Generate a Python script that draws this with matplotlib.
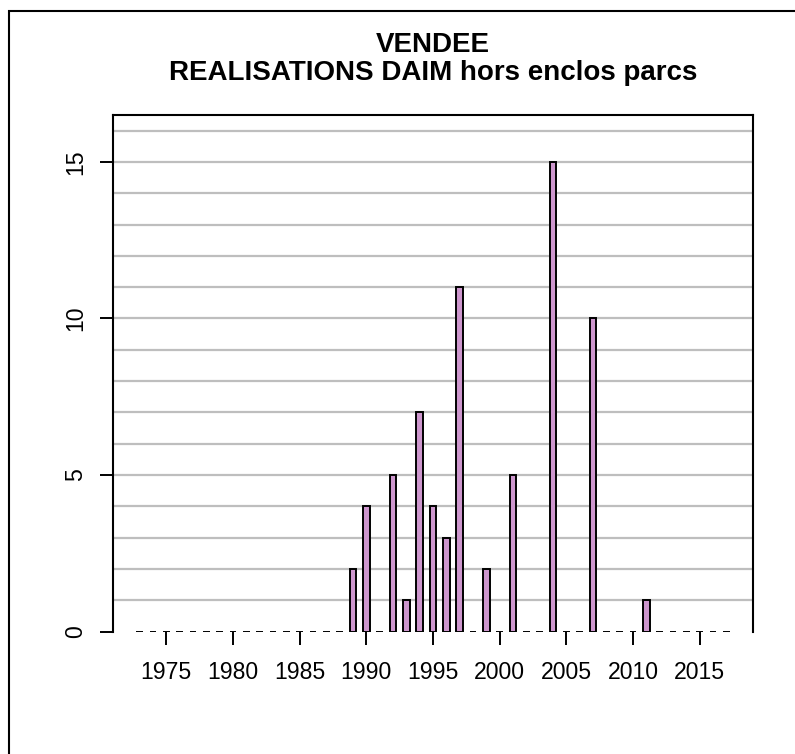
import numpy as np
import matplotlib.pyplot as plt
from matplotlib.patches import Rectangle

plt.rcParams['font.family'] = ['Liberation Sans', 'DejaVu Sans']

# data
years = list(range(1973, 2018))
counts_by_year = {1989: 2, 1990: 4, 1992: 5, 1993: 1, 1994: 7, 1995: 4,
                  1996: 3, 1997: 11, 1999: 2, 2001: 5, 2004: 15, 2007: 10,
                  2011: 1}
counts = [counts_by_year.get(y, 0) for y in years]
xticks = [1975, 1980, 1985, 1990, 1995, 2000, 2005, 2010, 2015]
yticks = [0, 5, 10, 15]
title1 = "VENDEE"
title2 = "REALISATIONS DAIM hors enclos parcs"

W, H = 795, 754
L, R, T, B = 113, 753, 115, 631.5
fig = plt.figure(figsize=(W / 100, H / 100), dpi=100)
ax = fig.add_axes([L / W, 1 - B / H, (R - L) / W, (B - T) / H])

# grey horizontal lines
for g in range(1, 17):
    ax.axhline(g, color='#BEBEBE', lw=1.6, zorder=0)

ax.bar(years, counts, width=0.5, color='#CD96CD', edgecolor='black',
       linewidth=1.4, zorder=2)

ax.set_xlim(1971, 2019)
ax.set_ylim(0, 16.5)
ax.spines['bottom'].set_visible(False)
for s in ['left', 'top', 'right']:
    ax.spines[s].set_linewidth(1.5)

ax.set_xticks(xticks)
ax.set_yticks(yticks)
ax.set_yticklabels([str(v) for v in yticks], rotation=90, va='center')
ax.tick_params(axis='x', length=9.5, width=1.4, pad=11.5, labelsize=16.6)
ax.tick_params(axis='y', length=9.5, width=1.4, pad=9, labelsize=16.6)

fig.text((L + R) / 2 / W, 1 - 45 / H, title1, ha='center', va='center',
         fontsize=20, fontweight='bold')
fig.text((L + R) / 2 / W, 1 - 73 / H, title2, ha='center', va='center',
         fontsize=20, fontweight='bold')

# outer frame
fig.patches.append(Rectangle((9 / W, -0.1), 1.2, 1 - 11 / H + 0.1,
                             transform=fig.transFigure, fill=False,
                             edgecolor='black', linewidth=1.5))

fig.savefig('out.png', dpi=100)
